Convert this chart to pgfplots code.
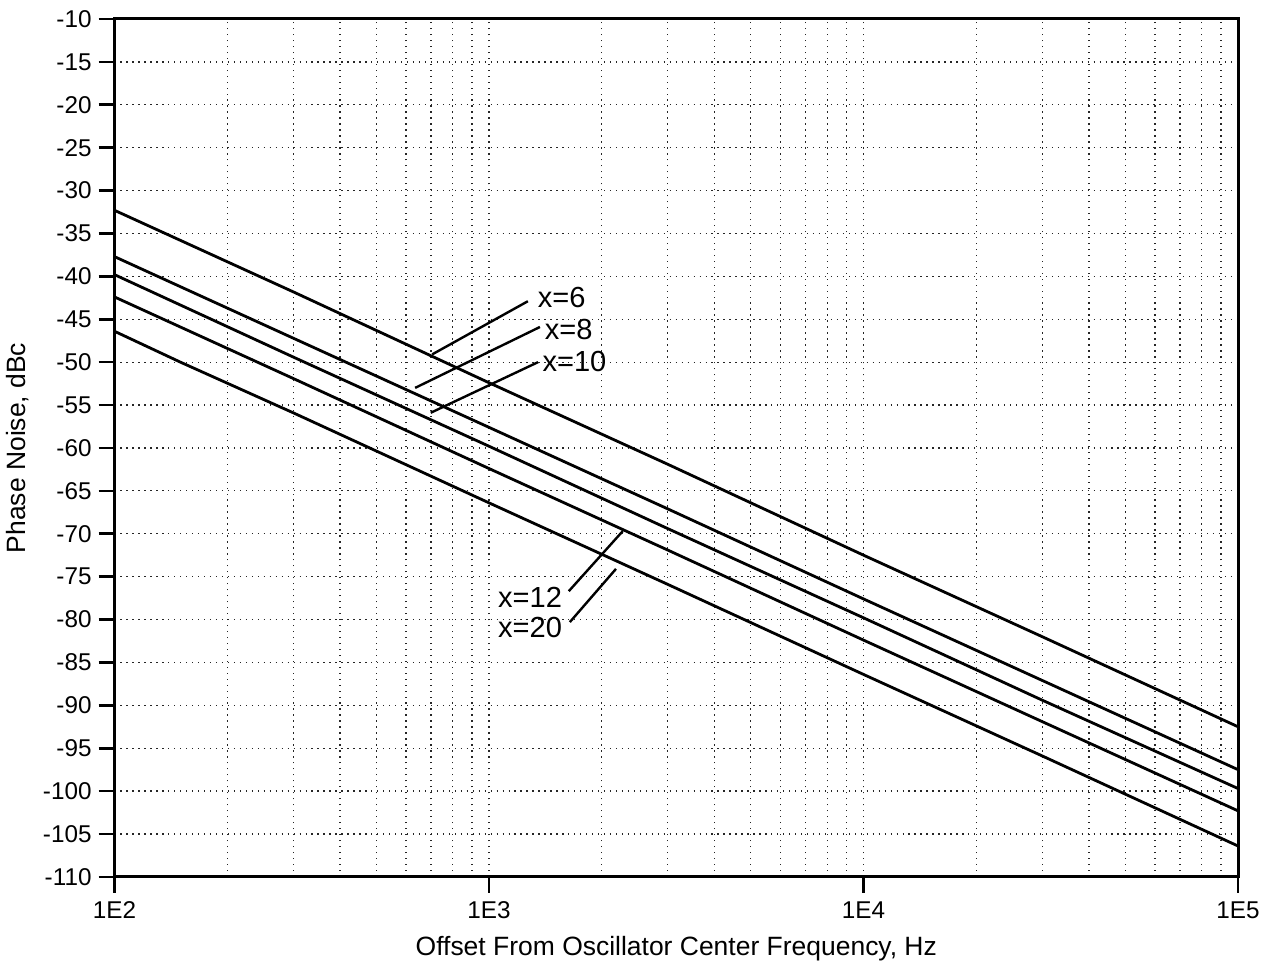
\documentclass[border=0pt]{standalone}
\usepackage{fontspec}
\setmainfont{Liberation Sans}
\usepackage{pgfplots}
\pgfplotsset{compat=1.18}
\begin{document}
\begin{tikzpicture}
\begin{axis}[
  name=ax,
  xmode=log,
  scale only axis,
  width=562.5bp, height=429.5bp,
  xmin=100, xmax=100000,
  ymin=-110, ymax=-10,
  xtick={100,1000,10000,100000},
  xticklabels={1E2,1E3,1E4,1E5},
  ytick={-110,-105,...,-10},
  yticklabel={\pgfmathparse{int(round(\tick))}\pgfmathresult},
  xtick pos=bottom, ytick pos=left,
  tick align=outside,
  major tick length=8bp,
  minor tick length=0pt,
  tick style={black, line width=1.3pt},
  xmajorgrids, xminorgrids, ymajorgrids,
  grid style={black!85, line width=0.65pt, dash pattern=on 0.65pt off 2.35pt},
  minor grid style={black!85, line width=0.65pt, dash pattern=on 0.65pt off 2.35pt},
  axis line style={line width=1.5bp},
  tick label style={font=\fontsize{12.2}{14}\selectfont},
  xticklabel style={yshift=-1bp},
  label style={font=\fontsize{13.3}{15}\selectfont},
  xlabel={Offset From Oscillator Center Frequency, Hz},
  ylabel={Phase Noise, dBc},
  xlabel style={yshift=-2bp},
  ylabel style={yshift=0bp},
  clip=false,
]
\addplot[black, line width=1.4bp] coordinates {(100,-32.3) (300,-41.8) (1000,-52.4) (3000,-61.9) (10000,-72.5) (30000,-82.0) (100000,-92.5)};
\addplot[black, line width=1.4bp] coordinates {(100,-37.7) (300,-47.2) (1000,-57.6) (3000,-67.1) (10000,-77.6) (30000,-87.1) (100000,-97.5)};
\addplot[black, line width=1.4bp] coordinates {(100,-39.8) (300,-49.4) (1000,-59.8) (3000,-69.4) (10000,-79.8) (30000,-89.4) (100000,-99.7)};
\addplot[black, line width=1.4bp] coordinates {(100,-42.4) (300,-51.9) (1000,-62.4) (3000,-71.9) (10000,-82.4) (30000,-91.9) (100000,-102.3)};
\addplot[black, line width=1.4bp] coordinates {(100,-46.4) (150,-50.0) (300,-55.9) (1000,-66.4) (3000,-75.9) (10000,-86.4) (30000,-95.9) (100000,-106.4)};
% annotations
\draw[black, line width=1.2bp] (axis cs:705,-49.1) -- (axis cs:1270,-42.9);
\node[anchor=west, inner sep=1bp, font=\fontsize{14.6}{16}\selectfont] at (axis cs:1330,-42.5) {x=6};
\draw[black, line width=1.2bp] (axis cs:635,-53.0) -- (axis cs:1368,-45.9);
\node[anchor=west, inner sep=1bp, font=\fontsize{14.6}{16}\selectfont] at (axis cs:1390,-46.2) {x=8};
\draw[black, line width=1.2bp] (axis cs:699,-55.9) -- (axis cs:1352,-50.0);
\node[anchor=west, inner sep=1bp, font=\fontsize{14.6}{16}\selectfont] at (axis cs:1370,-49.9) {x=10};
\draw[black, line width=1.2bp] (axis cs:1633,-76.7) -- (axis cs:2275,-69.7);
\node[anchor=east, inner sep=1bp, font=\fontsize{14.6}{16}\selectfont] at (axis cs:1590,-77.4) {x=12};
\draw[black, line width=1.2bp] (axis cs:1644,-80.3) -- (axis cs:2183,-74.1);
\node[anchor=east, inner sep=1bp, font=\fontsize{14.6}{16}\selectfont] at (axis cs:1590,-80.9) {x=20};
\end{axis}
\path (ax.south west) ++(-56.5bp,-43bp) coordinate (bl);
\path (ax.north east) ++(17.5bp,9.5bp) coordinate (tr);
\path (bl) rectangle (tr);
\end{tikzpicture}
\end{document}
